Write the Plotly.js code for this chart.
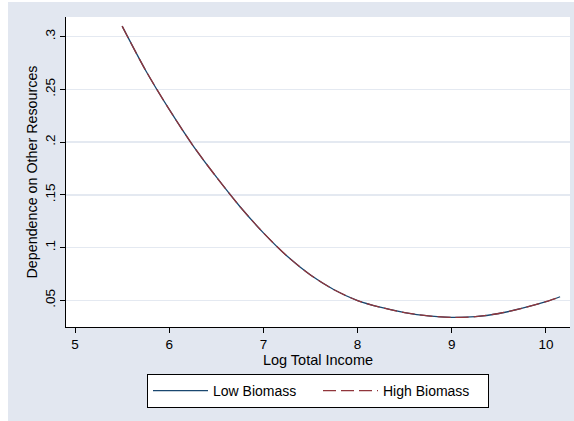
<html>
<head>
<script src="https://cdn.plot.ly/plotly-3.0.1.min.js"></script>
<style>
  body { margin: 0; padding: 0; background: #fff; }
  #chart { width: 574px; height: 421px; }
</style>
</head>
<body>
<div id="chart"></div>
<script>
// values
var logIncome = [5.5, 5.75, 6.0, 6.25, 6.5, 6.75, 7.0, 7.25, 7.5, 7.75, 8.0, 8.25, 8.5, 8.75, 9.0, 9.25, 9.5, 9.75, 10.0, 10.15];
var lowBiomass = [0.310, 0.268, 0.231, 0.197, 0.167, 0.139, 0.114, 0.092, 0.074, 0.060, 0.0497, 0.0432, 0.0384, 0.0352, 0.0338, 0.0345, 0.0375, 0.0425, 0.0487, 0.0534];
var highBiomass = [0.310, 0.268, 0.231, 0.197, 0.167, 0.139, 0.114, 0.092, 0.074, 0.060, 0.0497, 0.0432, 0.0384, 0.0352, 0.0338, 0.0345, 0.0375, 0.0425, 0.0487, 0.0534];
var yTicks = [0.05, 0.1, 0.15, 0.2, 0.25, 0.3];
var yTickText = ['.05', '.1', '.15', '.2', '.25', '.3'];
var xTicks = [5, 6, 7, 8, 9, 10];

var bg = '#e2e7f0';
var fnt = 'Arial, "Liberation Sans", sans-serif';

var trace1 = {
  x: logIncome, y: lowBiomass,
  name: 'Low Biomass',
  mode: 'lines',
  line: {color: '#1a476f', width: 1.3, shape: 'spline', smoothing: 0.8},
  type: 'scatter'
};
var trace2 = {
  x: logIncome, y: highBiomass,
  name: 'High Biomass',
  mode: 'lines',
  line: {color: '#90353b', width: 1.3, dash: '13px,5px', shape: 'spline', smoothing: 0.8},
  type: 'scatter'
};

var layout = {
  width: 574, height: 421,
  margin: {l: 66, r: 4, t: 17, b: 94},
  paper_bgcolor: bg,
  plot_bgcolor: '#ffffff',
  font: {family: fnt, size: 14, color: '#000'},
  showlegend: true,
  legend: {
    orientation: 'h',
    x: 0.5, xanchor: 'center',
    y: -0.152, yanchor: 'top',
    bgcolor: '#ffffff',
    bordercolor: '#000',
    borderwidth: 1,
    font: {family: fnt, size: 14},
    itemwidth: 55,
    entrywidth: 100,
    traceorder: 'normal'
  },
  xaxis: {
    range: [4.904, 10.255],
    tickvals: xTicks,
    ticks: 'outside', ticklen: 5, tickcolor: '#000',
    showline: true, linecolor: '#000', linewidth: 1,
    showgrid: false, zeroline: false,
    tickfont: {size: 13.5},
    title: {text: 'Log Total Income', font: {size: 14.5}, standoff: 0}
  },
  yaxis: {
    range: [0.0247, 0.3187],
    tickvals: yTicks, ticktext: yTickText,
    tickangle: -90,
    ticks: 'outside', ticklen: 5, tickcolor: '#000',
    showline: true, linecolor: '#000', linewidth: 1,
    showgrid: true, gridcolor: '#e4e9f1', gridwidth: 1.5,
    zeroline: false,
    tickfont: {size: 13.5},
    title: {text: 'Dependence on Other Resources', font: {size: 14.3}, standoff: 1}
  },
  shapes: [
    // white strips outside the grey graph region
    {type: 'rect', xref: 'paper', yref: 'paper', x0: -0.14, x1: -0.1151, y0: -0.31, y1: 1.06,
     fillcolor: '#fff', line: {width: 0}, layer: 'below'},
    {type: 'rect', xref: 'paper', yref: 'paper', x0: -0.14, x1: 1.02, y0: 1.0484, y1: 1.06,
     fillcolor: '#fff', line: {width: 0}, layer: 'below'}
  ]
};

Plotly.newPlot('chart', [trace1, trace2], layout, {displayModeBar: false, staticPlot: true});
</script>
</body>
</html>
